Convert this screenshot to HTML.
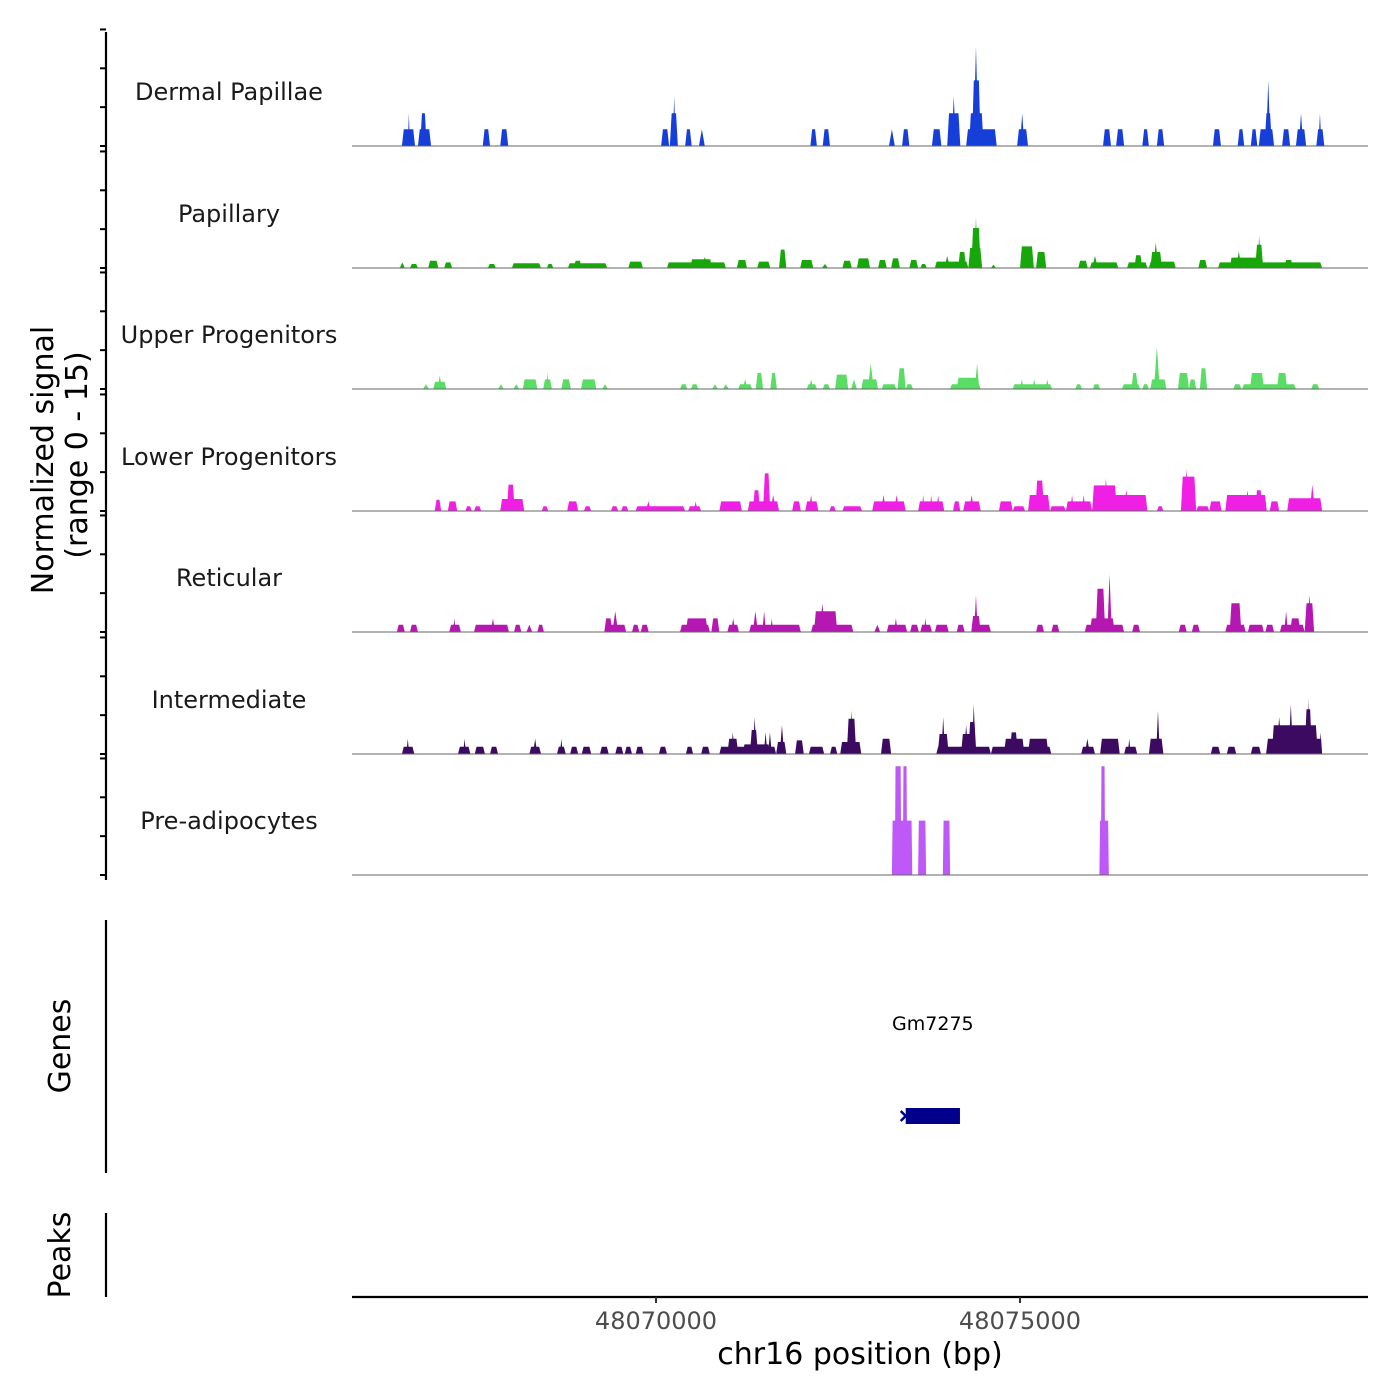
<!DOCTYPE html>
<html><head><meta charset="utf-8"><style>
html,body{margin:0;padding:0;background:#fff;}
svg{display:block;font-family:"DejaVu Sans","Liberation Sans",sans-serif;}
</style></head><body>
<svg id="chart" width="1400" height="1400" viewBox="0 0 1400 1400" xmlns="http://www.w3.org/2000/svg">
<g id="tracks"></g>
<g id="axes"></g>
</svg>
<script>
const regionStart = 48065824, regionEnd = 48079780;
const trackNames = ["Dermal Papillae","Papillary","Upper Progenitors","Lower Progenitors","Reticular","Intermediate","Pre-adipocytes"];
const trackColors = ["#163fd9","#18a70a","#5add64","#ef20e4","#b517b1","#3c0b61","#be58f6"];
const xTicks = [48070000, 48075000];
const yTicks = [0, 5, 10, 15];
const geneName = "Gm7275";
const geneStart = 48073430, geneEnd = 48074175;

// segments: [startBp, endBp, normalized signal]
const dermalPapillae = [
[48066510,48066690,2.1],[48066590,48066620,4.1],[48066730,48066910,2.1],[48066760,48066850,4.1],
[48067620,48067720,2.1],[48067860,48067970,2.1],[48070070,48070180,2.1],[48070190,48070300,4.1],[48070230,48070270,6.2],
[48070400,48070490,2.1],[48070590,48070670,2.1],[48072120,48072210,2.1],[48072290,48072390,2.1],
[48073200,48073280,2.1],[48073380,48073480,2.1],[48073790,48073920,2.1],[48074000,48074180,4.1],[48074060,48074120,6.2],
[48074260,48074680,2.1],[48074300,48074500,4.1],[48074340,48074460,8.2],[48074360,48074430,12.4],
[48074960,48075110,2.1],[48075000,48075060,4.1],[48076140,48076250,2.1],[48076320,48076430,2.1],
[48076680,48076770,2.1],[48076880,48076980,2.1],[48077650,48077760,2.1],[48077990,48078080,2.1],
[48078170,48078260,2.1],[48078280,48078490,2.1],[48078360,48078460,4.1],[48078380,48078440,8.2],
[48078600,48078710,2.1],[48078790,48078930,2.1],[48078830,48078890,4.1],[48079070,48079180,2.1],[48079100,48079140,4.1]
];
const papillary = [
[48066480,48066550,0.7],[48066620,48066730,0.5],[48066870,48067010,0.9],[48067090,48067200,0.7],[48067690,48067800,0.5],
[48068020,48068420,0.6],[48068500,48068590,0.5],[48068790,48069330,0.6],[48068870,48068980,0.9],[48069620,48069820,0.8],
[48070150,48070960,0.7],[48070470,48070770,1.1],[48070630,48070710,1.4],[48071110,48071250,1.0],[48071390,48071570,0.8],
[48071690,48071790,2.3],[48071980,48072160,1.0],[48072280,48072360,0.5],[48072560,48072690,0.9],[48072760,48072940,1.2],
[48073050,48073170,1.0],[48073230,48073350,1.2],[48073480,48073600,1.0],[48073630,48073720,0.5],
[48073830,48074290,0.8],[48073960,48074040,1.5],[48074150,48074260,2.0],[48074290,48074480,2.5],[48074330,48074460,5.0],[48074370,48074420,6.3],
[48074600,48074670,0.4],[48075000,48075190,2.7],[48075220,48075360,2.0],[48075800,48075930,0.9],[48075960,48076350,0.7],[48075990,48076070,1.5],
[48076470,48076750,0.7],[48076570,48076680,1.6],[48076770,48077140,0.8],[48076790,48076950,2.0],[48076830,48076900,3.2],
[48077450,48077570,1.0],[48077720,48079150,0.7],[48077880,48078320,1.3],[48077970,48078040,2.1],[48078230,48078340,2.9],[48078260,48078310,4.0],[48078630,48078750,1.0]
];
const upperProgenitors = [
[48066800,48066880,0.6],[48066940,48067120,0.9],[48067000,48067060,1.7],[48067830,48067910,0.6],[48068040,48068120,0.6],
[48068170,48068370,1.2],[48068450,48068570,1.2],[48068490,48068530,2.0],[48068700,48068830,1.2],[48068970,48069180,1.2],
[48069260,48069340,0.6],[48070330,48070430,0.6],[48070480,48070580,0.6],[48070770,48070850,0.6],[48070920,48071000,0.6],
[48071130,48071320,0.6],[48071190,48071260,1.2],[48071370,48071470,2.0],[48071570,48071660,2.0],[48072070,48072210,0.6],[48072100,48072160,1.2],
[48072290,48072390,0.6],[48072460,48072640,1.8],[48072680,48072760,1.2],[48072820,48073050,1.2],[48072910,48072990,3.2],
[48073100,48073300,0.6],[48073320,48073430,2.6],[48073430,48073530,0.6],[48074040,48074460,0.6],[48074130,48074440,1.4],[48074380,48074440,3.2],
[48074900,48075440,0.6],[48075000,48075050,1.2],[48075170,48075220,1.2],[48075350,48075400,1.2],[48075760,48075850,0.6],[48076000,48076100,0.6],
[48076400,48076650,0.6],[48076530,48076620,2.0],[48076680,48076770,0.6],[48076790,48077010,1.2],[48076840,48076920,5.3],
[48077170,48077320,2.0],[48077320,48077420,1.2],[48077470,48077570,2.6],[48077930,48078040,0.6],[48078050,48078790,0.6],
[48078160,48078350,2.0],[48078530,48078670,2.0],[48079000,48079110,0.6]
];
const lowerProgenitors = [
[48066960,48067050,1.4],[48067140,48067270,1.2],[48067380,48067470,0.6],[48067500,48067600,0.6],[48067860,48068190,1.5],[48067950,48068060,3.3],
[48068430,48068520,0.6],[48068780,48068930,1.2],[48069010,48069110,0.6],[48069380,48069480,0.6],[48069520,48069620,0.6],
[48069720,48070400,0.6],[48069860,48069930,1.2],[48070440,48070620,0.6],[48070520,48070570,1.2],[48070870,48071180,1.2],
[48071260,48071690,1.2],[48071330,48071430,2.6],[48071470,48071570,4.7],[48071570,48071650,2.0],[48071870,48071990,1.2],
[48072050,48072230,1.2],[48072100,48072160,2.0],[48072380,48072470,0.6],[48072560,48072830,0.6],[48072970,48073430,1.2],
[48073090,48073160,2.0],[48073270,48073340,2.0],[48073600,48073960,1.2],[48073650,48073690,2.0],[48073760,48073800,2.0],[48073850,48073900,2.0],
[48074080,48074180,1.2],[48074220,48074460,1.2],[48074300,48074370,2.0],[48074710,48074900,1.2],[48074900,48075070,0.6],
[48075110,48075410,2.0],[48075210,48075330,3.8],[48075410,48075630,0.6],[48075630,48075990,1.2],[48075690,48075740,2.0],[48075850,48075900,2.0],
[48075990,48076750,2.0],[48075990,48076330,3.2],[48076150,48076210,4.1],[48076420,48076500,2.6],[48076880,48076970,0.6],
[48077210,48077420,4.3],[48077250,48077320,5.2],[48077420,48077600,0.6],[48077600,48077770,1.2],[48077820,48078390,2.0],
[48078090,48078160,2.6],[48078230,48078330,2.6],[48078430,48078560,1.2],[48078670,48079150,1.6],[48078980,48079050,3.3]
];
const reticular = [
[48066440,48066550,0.9],[48066620,48066730,0.9],[48067160,48067320,0.9],[48067210,48067250,1.7],[48067500,48067980,0.9],[48067730,48067790,1.7],
[48068050,48068150,0.9],[48068220,48068300,0.9],[48068370,48068460,0.9],[48069290,48069590,0.9],[48069290,48069400,1.7],[48069400,48069480,2.6],
[48069670,48069770,0.9],[48069790,48069900,0.9],[48070330,48070740,0.9],[48070410,48070710,1.7],[48070760,48070870,1.7],
[48070980,48071140,0.9],[48071030,48071090,1.7],[48071280,48071990,0.9],[48071330,48071400,2.6],[48071460,48071510,2.6],[48071570,48071610,1.7],
[48072130,48072710,0.9],[48072170,48072490,2.6],[48072250,48072320,3.6],[48073000,48073080,0.9],[48073170,48073450,0.9],[48073270,48073320,1.7],
[48073490,48073610,0.9],[48073630,48073790,0.9],[48073680,48073720,1.7],[48073830,48074020,0.9],[48074130,48074240,0.9],
[48074330,48074600,0.9],[48074330,48074460,2.0],[48074370,48074420,4.6],[48075220,48075330,0.9],[48075430,48075540,0.9],
[48075890,48076430,0.9],[48075960,48076300,1.7],[48076040,48076170,5.4],[48076200,48076260,7.2],[48076540,48076650,0.9],
[48077180,48077290,0.9],[48077360,48077470,0.9],[48077820,48078100,0.9],[48077880,48078040,3.6],[48078130,48078350,0.9],
[48078370,48078490,0.9],[48078570,48078910,0.9],[48078630,48078680,2.6],[48078710,48078850,1.7],[48078910,48079040,3.6],[48078940,48079010,4.6]
];
const intermediate = [
[48066510,48066680,0.9],[48066570,48066610,1.9],[48067280,48067450,0.9],[48067350,48067390,1.9],[48067510,48067650,0.9],[48067720,48067830,0.9],
[48068260,48068420,0.9],[48068310,48068370,1.9],[48068640,48068760,0.9],[48068680,48068720,1.9],[48068820,48068930,0.9],[48068980,48069110,0.9],
[48069230,48069350,0.9],[48069440,48069550,0.9],[48069570,48069670,0.9],[48069720,48069830,0.9],[48070040,48070150,0.9],
[48070410,48070510,0.9],[48070620,48070740,0.9],[48070870,48071650,0.9],[48070980,48071130,1.9],[48071030,48071080,2.7],
[48071190,48071570,1.2],[48071290,48071400,3.0],[48071330,48071380,4.6],[48071480,48071530,2.7],[48071540,48071590,2.7],
[48071650,48071790,1.5],[48071700,48071760,3.6],[48071910,48072030,1.7],[48072100,48072310,0.9],[48072390,48072490,0.9],
[48072530,48072820,1.5],[48072620,48072750,4.4],[48072660,48072710,5.4],[48073090,48073230,1.9],
[48073850,48074600,0.9],[48073870,48074020,2.5],[48073920,48073970,4.6],[48074190,48074340,2.5],[48074230,48074290,3.6],
[48074290,48074400,4.0],[48074340,48074390,6.2],[48074600,48075430,0.9],[48074780,48075060,1.9],[48074860,48074970,2.7],[48075110,48075390,1.9],
[48075840,48076030,0.9],[48075890,48075960,1.9],[48076100,48076370,1.9],[48076430,48076610,0.9],[48076480,48076520,1.9],
[48076770,48076970,1.9],[48076870,48076920,5.4],[48077620,48077750,0.9],[48077840,48077970,0.9],[48078170,48078310,0.9],
[48078380,48079150,1.9],[48078460,48079090,3.6],[48078520,48078600,4.6],[48078690,48078750,6.2],[48078910,48079010,5.6],[48078950,48078980,7.0],[48079110,48079150,2.7]
];
const preAdipocytes = [
[48073240,48073520,6.8],[48073280,48073370,13.6],[48073390,48073450,13.6],[48073600,48073710,6.8],[48073940,48074040,6.8],
[48076090,48076220,6.8],[48076110,48076170,13.6]
];
const trackData = [dermalPapillae, papillary, upperProgenitors, lowerProgenitors, reticular, intermediate, preAdipocytes];

const NS = "http://www.w3.org/2000/svg";
const X0 = 352, X1 = 1368;
const xScale = bp => X0 + (bp - regionStart) / (regionEnd - regionStart) * (X1 - X0);
const baselines = [146, 268, 389, 511, 632, 754, 875];
const PX_PER_UNIT = 8.0;
const yScale = (v, b) => b - v * PX_PER_UNIT;

function mk(tag, attrs, parent) {
  const el = document.createElementNS(NS, tag);
  for (const k in attrs) el.setAttribute(k, attrs[k]);
  parent.appendChild(el);
  return el;
}
const tracksG = document.getElementById('tracks');
const axesG = document.getElementById('axes');

trackData.forEach((segs, ti) => {
  const b = baselines[ti];
  const g = mk('g', {}, tracksG);
  
  
  segs.forEach(s => {
    const xa = xScale(s[0]), xb = xScale(s[1]);
    const w = s[1] - s[0];
    const taperBp = ti === 6 ? Math.min(w * 0.15, 10) : (w <= 80 ? w * 0.5 : 25);
    const ta = xScale(s[0] + taperBp), tb = xScale(s[1] - taperBp);
    const yt = yScale(s[2], b);
    const p = mk('polygon', {points: `${xa},${b} ${ta},${yt} ${tb},${yt} ${xb},${b}`, fill: trackColors[ti]}, g);
    
    
  });
  const bl = mk('line', {x1: X0, x2: X1, y1: b, y2: b, stroke: '#666', 'stroke-width': 1}, g);
  
  
  const lab = mk('text', {x: 229, y: b - 46, 'text-anchor': 'middle', 'font-size': 24, fill: '#1a1a1a'}, g);
  lab.textContent = trackNames[ti];
  
  
  yTicks.forEach(v => {
    const y = b - v * 7.77;
    const t = mk('line', {x1: 100, x2: 106, y1: y, y2: y, stroke: '#000', 'stroke-width': 2}, axesG);
    
    
  });
});

// left axis lines
[[32, 880, 'signal-axis-line'], [920, 1173, 'genes-axis-line'], [1213, 1297, 'peaks-axis-line']].forEach(a => {
  const l = mk('line', {x1: 106, x2: 106, y1: a[0], y2: a[1], stroke: '#000', 'stroke-width': 2.2}, axesG);
  
  
});

// y-axis titles
const yt1 = mk('text', {x: 0, y: 0, transform: 'translate(53,460) rotate(-90)', 'text-anchor': 'middle', 'font-size': 30, fill: '#000'}, axesG);
yt1.textContent = 'Normalized signal';


const yt2 = mk('text', {x: 0, y: 0, transform: 'translate(87,455) rotate(-90)', 'text-anchor': 'middle', 'font-size': 30, fill: '#000'}, axesG);
yt2.textContent = '(range 0 - 15)';


const gt = mk('text', {x: 0, y: 0, transform: 'translate(70,1046) rotate(-90)', 'text-anchor': 'middle', 'font-size': 30, fill: '#000'}, axesG);
gt.textContent = 'Genes';


const pt = mk('text', {x: 0, y: 0, transform: 'translate(70,1255) rotate(-90)', 'text-anchor': 'middle', 'font-size': 30, fill: '#000'}, axesG);
pt.textContent = 'Peaks';



// gene track
const geneG = mk('g', {}, tracksG);


const gx0 = xScale(geneStart), gx1 = xScale(geneEnd);
const gr = mk('rect', {x: gx0, y: 1108, width: gx1 - gx0, height: 16, fill: '#00008b'}, geneG);


const ch = mk('polyline', {points: `${gx0 - 5},${1111} ${gx0},${1116} ${gx0 - 5},${1121}`, fill: 'none', stroke: '#00008b', 'stroke-width': 2.5}, geneG);


const gl = mk('text', {x: (gx0 + gx1) / 2, y: 1030, 'text-anchor': 'middle', 'font-size': 19, fill: '#000'}, geneG);
gl.textContent = geneName;



// x axis
const xl = mk('line', {x1: X0, x2: X1, y1: 1297, y2: 1297, stroke: '#000', 'stroke-width': 2.2}, axesG);


xTicks.forEach(v => {
  const x = xScale(v);
  const t = mk('line', {x1: x, x2: x, y1: 1297, y2: 1303, stroke: '#333', 'stroke-width': 2}, axesG);
  
  
  const tl = mk('text', {x: x, y: 1329, 'text-anchor': 'middle', 'font-size': 24, fill: '#4d4d4d'}, axesG);
  tl.textContent = String(v);
  
  
});
const xt = mk('text', {x: 860, y: 1364, 'text-anchor': 'middle', 'font-size': 30, fill: '#000'}, axesG);
xt.textContent = 'chr16 position (bp)';


</script>
</body></html>
